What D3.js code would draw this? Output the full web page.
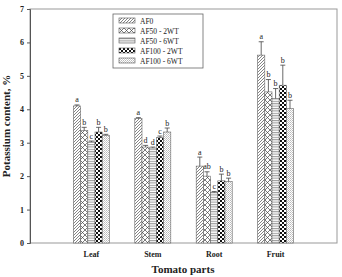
<!DOCTYPE html>
<html>
<head>
<meta charset="utf-8">
<script src="https://cdn.jsdelivr.net/npm/d3@7"></script>
<style>
body { margin: 0; background: #fff; }
svg { font-family: "Liberation Serif", "Times New Roman", serif; }
</style>
</head>
<body>
<div id="chart"></div>
<script>
// data
var parts = ["Leaf", "Stem", "Root", "Fruit"]
var treatments = ["AF0", "AF50 - 2WT", "AF50 - 6WT", "AF100 - 2WT", "AF100 - 6WT"]
var af0    = [4.1, 3.72, 2.3, 5.62]
var af50_2 = [3.36, 2.87, 2.0, 4.52]
var af50_6 = [3.02, 2.84, 1.51, 4.32]
var af100_2 = [3.32, 3.15, 1.86, 4.72]
var af100_6 = [3.22, 3.32, 1.84, 4.02]
var err0    = [0.03, 0.03, 0.27, 0.4]
var err50_2 = [0.1, 0.05, 0.13, 0.37]
var err50_6 = [0.03, 0.03, 0.03, 0.3]
var err100_2 = [0.14, 0.05, 0.2, 0.6]
var err100_6 = [0.03, 0.12, 0.1, 0.25]
var letters0 = ["a", "a", "a", "a"]
var letters50_2 = ["b", "d", "ab", "b"]
var letters50_6 = ["c", "d", "c", "b"]
var letters100_2 = ["b", "c", "b", "b"]
var letters100_6 = ["b", "b", "b", "b"]
var yTicks = [0, 1, 2, 3, 4, 5, 6, 7]

var values = [af0, af50_2, af50_6, af100_2, af100_6]
var errors = [err0, err50_2, err50_6, err100_2, err100_6]
var letters = [letters0, letters50_2, letters50_6, letters100_2, letters100_6]

var data = []
parts.forEach(function(p, i) {
  treatments.forEach(function(t, j) {
    data.push({part: p, trt: t, k: j, value: values[j][i], err: errors[j][i], letter: letters[j][i]})
  })
})

var W = 342, H = 277
var mLeft = 30, mRight = 337, mTop = 9, mBottom = 243

var svg = d3.select("#chart").append("svg")
  .attr("width", W).attr("height", H)

// patterns
var defs = svg.append("defs")
function pat(id, w, h) {
  var p = defs.append("pattern").attr("id", id)
    .attr("patternUnits", "userSpaceOnUse").attr("width", w).attr("height", h)
  p.append("rect").attr("width", w).attr("height", h).attr("fill", "#fff")
  return p
}
var p0 = pat("p0", 3, 3)
p0.append("path").attr("d", "M0,3 L3,0 M-1,1 L1,-1 M2,4 L4,2").attr("stroke", "#666").attr("stroke-width", 0.8)
var p1 = pat("p1", 5, 5)
p1.append("path").attr("d", "M0,0 L5,5 M5,0 L0,5").attr("stroke", "#444").attr("stroke-width", 0.7)
var p2 = pat("p2", 4, 2.4)
p2.append("path").attr("d", "M0,0.6 L4,0.6").attr("stroke", "#555").attr("stroke-width", 0.7)
var p3 = pat("p3", 4, 4)
p3.append("rect").attr("width", 2).attr("height", 2).attr("fill", "#111")
p3.append("rect").attr("x", 2).attr("y", 2).attr("width", 2).attr("height", 2).attr("fill", "#111")
var p4 = pat("p4", 2, 2)
p4.append("rect").attr("width", 1).attr("height", 1).attr("fill", "#bbb")
p4.append("rect").attr("x", 1).attr("y", 1).attr("width", 1).attr("height", 1).attr("fill", "#ccc")
var fills = ["url(#p0)", "url(#p1)", "url(#p2)", "url(#p3)", "url(#p4)"]

var x = d3.scalePoint().domain(parts).range([mLeft, mRight]).padding(1)
var xIn = d3.scaleBand().domain(d3.range(treatments.length)).range([-18, 18])
var y = d3.scaleLinear().domain([0, 7]).range([mBottom, mTop])

// frame
svg.append("rect")
  .attr("x", mLeft).attr("y", mTop)
  .attr("width", mRight - mLeft).attr("height", mBottom - mTop)
  .attr("fill", "none").attr("stroke", "#999").attr("stroke-width", 1)

// left axis
var yAxis = svg.append("g")
  .attr("transform", "translate(" + mLeft + ",0)")
  .call(d3.axisLeft(y).tickValues(yTicks).tickSize(3).tickFormat(d3.format("d")))
yAxis.select(".domain").attr("stroke", "#555")
yAxis.selectAll(".tick line").attr("stroke", "#555")
yAxis.selectAll("text").attr("font-size", 8).attr("font-weight", "bold")
  .attr("font-family", "Liberation Serif").attr("fill", "#222")

// bars
svg.append("g").selectAll("rect")
  .data(data).enter().append("rect")
  .attr("x", function(d) { return x(d.part) + xIn(d.k) })
  .attr("y", function(d) { return y(d.value) })
  .attr("width", xIn.bandwidth())
  .attr("height", function(d) { return y(0) - y(d.value) })
  .attr("fill", function(d) { return fills[d.k] })
  .attr("stroke", "#666").attr("stroke-width", 0.6)

// error bars
var eb = svg.append("g").attr("stroke", "#444").attr("stroke-width", 0.8)
eb.selectAll("line.v").data(data).enter().append("line")
  .attr("x1", function(d) { return x(d.part) + xIn(d.k) + xIn.bandwidth() / 2 })
  .attr("x2", function(d) { return x(d.part) + xIn(d.k) + xIn.bandwidth() / 2 })
  .attr("y1", function(d) { return y(d.value) })
  .attr("y2", function(d) { return y(d.value + d.err) })
eb.selectAll("line.c").data(data).enter().append("line")
  .attr("x1", function(d) { return x(d.part) + xIn(d.k) + xIn.bandwidth() / 2 - 2.5 })
  .attr("x2", function(d) { return x(d.part) + xIn(d.k) + xIn.bandwidth() / 2 + 2.5 })
  .attr("y1", function(d) { return y(d.value + d.err) })
  .attr("y2", function(d) { return y(d.value + d.err) })

// significance letters
svg.append("g").selectAll("text")
  .data(data).enter().append("text")
  .attr("x", function(d) { return x(d.part) + xIn(d.k) + xIn.bandwidth() / 2 })
  .attr("y", function(d) { return y(d.value + d.err) - 2.5 })
  .attr("text-anchor", "middle")
  .attr("font-size", 8).attr("fill", "#222")
  .text(function(d) { return d.letter })

// category labels
svg.append("g").selectAll("text")
  .data(parts).enter().append("text")
  .attr("x", function(d) { return x(d) })
  .attr("y", 257)
  .attr("text-anchor", "middle")
  .attr("font-size", 8).attr("font-weight", "bold").attr("fill", "#222")
  .text(function(d) { return d })

// axis titles
svg.append("text")
  .attr("x", 183).attr("y", 273)
  .attr("text-anchor", "middle")
  .attr("font-size", 11).attr("font-weight", "bold").attr("fill", "#222")
  .text("Tomato parts")
svg.append("text")
  .attr("transform", "translate(10," + ((mTop + mBottom) / 2) + ") rotate(-90)")
  .attr("text-anchor", "middle")
  .attr("font-size", 11).attr("font-weight", "bold").attr("fill", "#222")
  .text("Potassium content, %")

// legend
var lg = svg.append("g").attr("transform", "translate(113,14)")
lg.append("rect").attr("width", 90).attr("height", 54)
  .attr("fill", "#fff").attr("stroke", "#666").attr("stroke-width", 0.8)
var items = lg.selectAll("g").data(treatments).enter().append("g")
  .attr("transform", function(d, i) { return "translate(6," + (4 + i * 10) + ")" })
items.append("rect").attr("width", 16).attr("height", 5)
  .attr("fill", function(d, i) { return fills[i] })
  .attr("stroke", "#555").attr("stroke-width", 0.6)
items.append("text").attr("x", 21).attr("y", 5.5)
  .attr("font-size", 7.5).attr("fill", "#222")
  .text(function(d) { return d })
</script>
</body>
</html>
